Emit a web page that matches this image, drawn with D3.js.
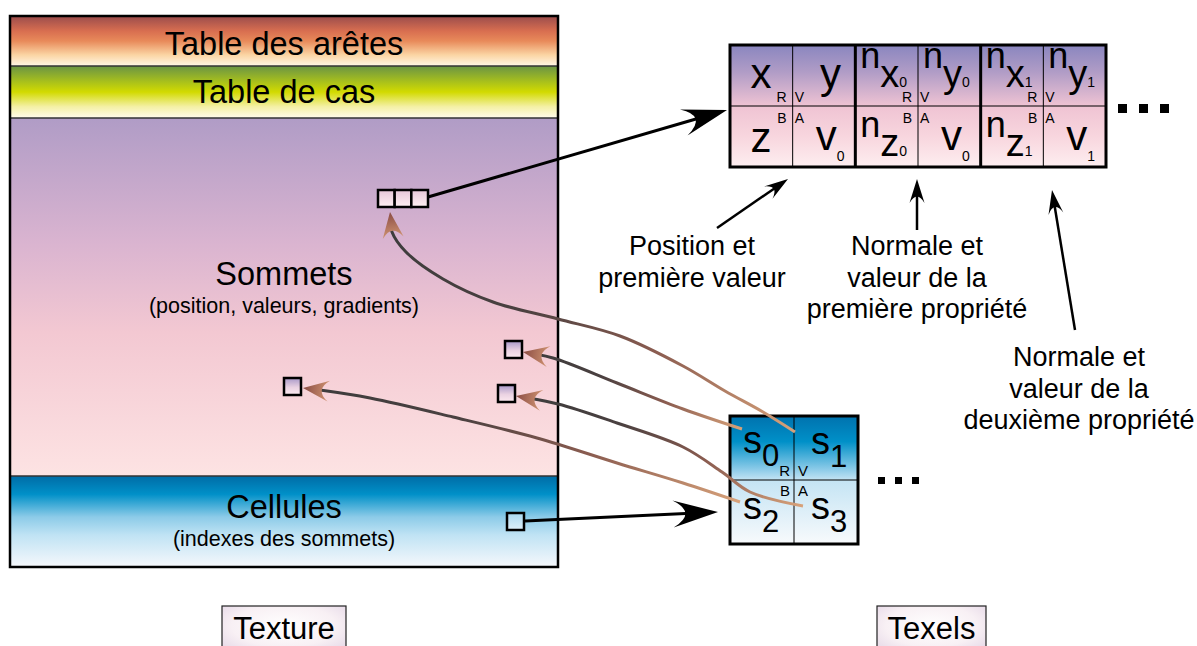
<!DOCTYPE html>
<html><head><meta charset="utf-8">
<script src="https://cdn.jsdelivr.net/npm/d3@7"></script>
<style>
body{margin:0;background:#fff}
svg{display:block}
text{font-family:"Liberation Sans",Arial,Helvetica,sans-serif;fill:#000}
</style>
</head><body>
<svg id="c" width="1197" height="646"></svg>
<script>
// ---- content ----
const bandNames = ["Table des arêtes", "Table de cas", "Sommets", "Cellules"];
const bandSubtitles = ["", "", "(position, valeurs, gradients)", "(indexes des sommets)"];
const channelTop = ["R", "V"];
const channelBottom = ["B", "A"];
const texelTopLeft = [["x"], ["n", "x", "0"], ["n", "x", "1"]];
const texelTopRight = [["y"], ["n", "y", "0"], ["n", "y", "1"]];
const texelBottomLeft = [["z"], ["n", "z", "0"], ["n", "z", "1"]];
const texelBottomRight = [["v", "0"], ["v", "0"], ["v", "1"]];
const cellLabels = [["s", "0"], ["s", "1"], ["s", "2"], ["s", "3"]];
const annotations = [
  ["Position et", "première valeur"],
  ["Normale et", "valeur de la", "première propriété"],
  ["Normale et", "valeur de la", "deuxième propriété"]
];
const footLabels = ["Texture", "Texels"];

// ---- layout ----
const svg = d3.select("#c");
const defs = svg.append("defs");
function linGrad(id, stops, a) {
  const g = defs.append("linearGradient").attr("id", id);
  const at = Object.assign({x1: 0, y1: 0, x2: 0, y2: 1}, a || {});
  Object.entries(at).forEach(([k, v]) => g.attr(k, v));
  stops.forEach(s => g.append("stop").attr("offset", s[0]).attr("stop-color", s[1]));
  return `url(#${id})`;
}

const TX0 = 10, TX1 = 558;
const bandY = d3.scaleOrdinal().domain([0, 1, 2, 3, 4]).range([16, 66, 118, 476, 567]);
const bandStops = [
  [[0, "#9a4c4c"], [0.3, "#d86e50"], [0.5, "#e88a5a"], [0.78, "#fbd5a4"], [1, "#fff7e6"]],
  [[0, "#6a9444"], [0.3, "#a8c01c"], [0.5, "#d2da00"], [0.78, "#f4f0a4"], [1, "#fffbec"]],
  [[0, "#b09cc6"], [0.35, "#dab4d0"], [0.6, "#f3c8d2"], [1, "#fde3e3"]],
  [[0, "#006ca6"], [0.2, "#0090c8"], [0.45, "#8ccbe8"], [0.65, "#c0e3f4"], [1, "#f6f8fc"]]
];

const cx = (TX0 + TX1) / 2;
bandNames.forEach((n, i) => {
  const y0 = bandY(i), y1 = bandY(i + 1);
  svg.append("rect").attr("x", TX0).attr("y", y0).attr("width", TX1 - TX0).attr("height", y1 - y0)
    .attr("fill", linGrad("band" + i, bandStops[i]));
});
[1, 2, 3].forEach(i => {
  svg.append("line").attr("x1", TX0).attr("x2", TX1).attr("y1", bandY(i)).attr("y2", bandY(i))
    .attr("stroke", "#333").attr("stroke-width", 1.5);
});
svg.append("rect").attr("x", TX0).attr("y", bandY(0)).attr("width", TX1 - TX0).attr("height", bandY(4) - bandY(0))
  .attr("fill", "none").attr("stroke", "#000").attr("stroke-width", 2.5);

const titleBase = [55, 103, 285, 518];
bandNames.forEach((n, i) => {
  svg.append("text").attr("x", cx).attr("y", titleBase[i]).attr("text-anchor", "middle")
    .attr("font-size", 32.5).text(n);
  if (bandSubtitles[i]) svg.append("text").attr("x", cx).attr("y", titleBase[i] + 28)
    .attr("text-anchor", "middle").attr("font-size", 21.5).text(bandSubtitles[i]);
});

// ---- texel strip (top right) ----
const col = d3.scaleBand().domain(d3.range(6)).range([730, 1106]);
const TY0 = 45, TYM = 106, TY1 = 167;
svg.append("rect").attr("x", 730).attr("y", TY0).attr("width", 376).attr("height", TY1 - TY0)
  .attr("fill", linGrad("texg", [[0, "#8a86bf"], [0.22, "#b09cc6"], [0.5, "#efc3d3"], [0.75, "#f8d6de"], [1, "#fdeef0"]]));
[1, 3, 5].forEach(c => svg.append("line").attr("x1", col(c)).attr("x2", col(c)).attr("y1", TY0).attr("y2", TY1)
  .attr("stroke", "#000").attr("stroke-width", 1));
svg.append("line").attr("x1", 730).attr("x2", 1106).attr("y1", TYM).attr("y2", TYM).attr("stroke", "#000").attr("stroke-width", 1);
[2, 4].forEach(c => svg.append("line").attr("x1", col(c)).attr("x2", col(c)).attr("y1", TY0).attr("y2", TY1)
  .attr("stroke", "#000").attr("stroke-width", 3));
svg.append("rect").attr("x", 730).attr("y", TY0).attr("width", 376).attr("height", TY1 - TY0)
  .attr("fill", "none").attr("stroke", "#000").attr("stroke-width", 3);

function composite(x, y, parts, anchor, sizes, dys) {
  const t = svg.append("text").attr("x", x).attr("y", y).attr("text-anchor", anchor || "start");
  parts.forEach((p, k) => t.append("tspan").attr("font-size", sizes[k]).attr("dy", dys[k]).text(p));
  return t;
}
for (let g = 0; g < 3; g++) {
  const x0 = col(2 * g), xm = col(2 * g + 1);
  if (g === 0) {
    composite(x0 + 31, 88, texelTopLeft[g], "middle", [42], [0]);
    composite(x0 + 111, 88, texelTopRight[g], "end", [42], [0]);
    composite(x0 + 31, 152, texelBottomLeft[g], "middle", [42], [0]);
  } else {
    composite(x0 + 5, 68, texelTopLeft[g], "start", [36, 38, 14], [0, 19, 0]);
    composite(xm + 5, 68, texelTopRight[g], "start", [36, 38, 14], [0, 19, 0]);
    composite(x0 + 5, 137, texelBottomLeft[g], "start", [36, 38, 14], [0, 19, 0]);
  }
  composite(xm + 23, 150, texelBottomRight[g], "start", [42, 14], [0, 11]);
  svg.append("text").attr("x", xm - 6).attr("y", 102).attr("text-anchor", "end").attr("font-size", 14).text(channelTop[0]);
  svg.append("text").attr("x", xm + 2).attr("y", 102).attr("font-size", 14).text(channelTop[1]);
  svg.append("text").attr("x", xm - 6).attr("y", 123).attr("text-anchor", "end").attr("font-size", 14).text(channelBottom[0]);
  svg.append("text").attr("x", xm + 2).attr("y", 123).attr("font-size", 14).text(channelBottom[1]);
}
[1118, 1139, 1160].forEach(x => svg.append("rect").attr("x", x).attr("y", 104).attr("width", 9).attr("height", 9).attr("fill", "#000"));

// ---- cell texel (small box) ----
const scol = d3.scaleBand().domain([0, 1]).range([730, 858]);
const SY0 = 416, SYM = 480, SY1 = 544;
svg.append("rect").attr("x", 730).attr("y", SY0).attr("width", 128).attr("height", 128)
  .attr("fill", linGrad("cellg", [[0, "#0072ae"], [0.2, "#0090c8"], [0.42, "#8ecce9"], [0.5, "#c4e4f4"], [1, "#f8fafc"]]));
svg.append("line").attr("x1", scol(1)).attr("x2", scol(1)).attr("y1", SY0).attr("y2", SY1).attr("stroke", "#000").attr("stroke-width", 1);
svg.append("line").attr("x1", 730).attr("x2", 858).attr("y1", SYM).attr("y2", SYM).attr("stroke", "#000").attr("stroke-width", 1);
svg.append("rect").attr("x", 730).attr("y", SY0).attr("width", 128).attr("height", 128)
  .attr("fill", "none").attr("stroke", "#000").attr("stroke-width", 3);
const sPos = [[743, 453], [811, 454], [743, 519], [811, 519]];
cellLabels.forEach((c, i) => composite(sPos[i][0], sPos[i][1], c, "start", [38, 31], [0, 13]));
svg.append("text").attr("x", scol(1) - 4).attr("y", 476).attr("text-anchor", "end").attr("font-size", 15).text(channelTop[0]);
svg.append("text").attr("x", scol(1) + 4).attr("y", 476).attr("font-size", 15).text(channelTop[1]);
svg.append("text").attr("x", scol(1) - 4).attr("y", 496).attr("text-anchor", "end").attr("font-size", 15).text(channelBottom[0]);
svg.append("text").attr("x", scol(1) + 4).attr("y", 496).attr("font-size", 15).text(channelBottom[1]);
[878, 895, 912].forEach(x => svg.append("rect").attr("x", x).attr("y", 477).attr("width", 7).attr("height", 7).attr("fill", "#000"));

// ---- arrowheads ----
function headPath(tip, from, L, W) {
  let ux = tip[0] - from[0], uy = tip[1] - from[1];
  const n = Math.hypot(ux, uy); ux /= n; uy /= n;
  const px = -uy, py = ux;
  const bx = tip[0] - ux * L, by = tip[1] - uy * L;
  const c = [tip[0] - ux * 0.45 * L, tip[1] - uy * 0.45 * L];
  return `M${tip[0]},${tip[1]} L${bx + px * W},${by + py * W} Q${c[0]},${c[1]} ${bx - px * W},${by - py * W} Z`;
}
function blackArrow(from, tip, L, W, sw) {
  let ux = tip[0] - from[0], uy = tip[1] - from[1];
  const n = Math.hypot(ux, uy); ux /= n; uy /= n;
  svg.append("line").attr("x1", from[0]).attr("y1", from[1])
    .attr("x2", tip[0] - ux * L * 0.6).attr("y2", tip[1] - uy * L * 0.6)
    .attr("stroke", "#000").attr("stroke-width", sw);
  svg.append("path").attr("d", headPath(tip, from, L, W)).attr("fill", "#000");
}

// ---- brown curves from cell texels to texture ----
const curves = [
  [[795, 432], [763, 412], [725, 391], [683, 366], [620, 336], [558, 319], [493, 302], [443, 279], [406, 252], [392, 232], [390, 212]],
  [[742, 429], [683, 409], [617, 383], [553, 358], [523, 352]],
  [[803, 506], [750, 492], [722, 472], [683, 447], [617, 423], [558, 404], [516, 396]],
  [[740, 502], [683, 483], [617, 463], [537, 438], [453, 417], [370, 398], [320, 390], [303, 388]]
];
const curveLine = d3.line().curve(d3.curveCatmullRom.alpha(0.5));
curves.forEach((pts, i) => {
  const tip = pts[pts.length - 1], start = pts[0];
  const grad = linGrad("cg" + i, [[0, "#3c3c3c"], [0.35, "#4a4040"], [0.65, "#8a5c50"], [1, "#d8a27a"]],
    {gradientUnits: "userSpaceOnUse", x1: tip[0], y1: tip[1], x2: start[0], y2: start[1]});
  const p = svg.append("path").attr("d", curveLine(pts)).attr("fill", "none")
    .attr("stroke", grad).attr("stroke-width", 3);
  const len = p.node().getTotalLength();
  p.attr("stroke-dasharray", `${len - 14} ${len}`);
  const back = p.node().getPointAtLength(len - 22);
  const from = [back.x, back.y];
  let ux = tip[0] - from[0], uy = tip[1] - from[1];
  const n = Math.hypot(ux, uy); ux /= n; uy /= n;
  const hg = linGrad("hg" + i, [[0, "#8a4c44"], [1, "#cf9371"]],
    {gradientUnits: "userSpaceOnUse", x1: tip[0], y1: tip[1], x2: tip[0] - ux * 26, y2: tip[1] - uy * 26});
  svg.append("path").attr("d", headPath(tip, from, 26, 10.5)).attr("fill", hg);
});

// ---- black arrows ----
blackArrow([428, 197], [727, 110], 45, 13.5, 3);
blackArrow([525, 521], [718, 512], 45, 13.5, 3);
blackArrow([717, 228], [788, 179], 24, 7.5, 2.5);
blackArrow([917, 230], [917, 179], 24, 7.5, 2.5);
blackArrow([1075, 330], [1052, 190], 24, 7.5, 2.5);

// ---- small squares in the texture ----
const sq = linGrad("sqg", [[0, "#a898c8"], [0.55, "#ead2e2"], [1, "#fdeaf0"]]);
const squares = [[505, 341], [498, 385], [284, 378], [507, 513]];
squares.forEach((s, i) => svg.append("rect").attr("x", s[0]).attr("y", s[1]).attr("width", 17).attr("height", 17)
  .attr("fill", i === 3 ? linGrad("sqc", [[0, "#a8d8f0"], [1, "#dff0fa"]]) : sq)
  .attr("stroke", "#000").attr("stroke-width", 2.5));
const three = linGrad("thg", [[0, "#e6c6d8"], [1, "#fff0f2"]]);
const tcol = d3.scaleBand().domain([0, 1, 2]).range([378, 428]);
tcol.domain().forEach(k => svg.append("rect").attr("x", tcol(k)).attr("y", 190).attr("width", tcol.bandwidth())
  .attr("height", 17).attr("fill", three).attr("stroke", "#000").attr("stroke-width", 2.5));

// ---- annotation texts ----
const annX = [692, 917, 1079];
const annY = [255, 255, 366];
annotations.forEach((lines, i) => {
  lines.forEach((l, k) => svg.append("text").attr("x", annX[i]).attr("y", annY[i] + k * 31.5)
    .attr("text-anchor", "middle").attr("font-size", 27).text(l));
});

// ---- foot labels ----
const rg = defs.append("radialGradient").attr("id", "footg").attr("cx", 0.5).attr("cy", 0.4).attr("r", 0.7);
[[0, "#ffffff"], [0.6, "#f8f0f4"], [1, "#e4d6e6"]].forEach(s => rg.append("stop").attr("offset", s[0]).attr("stop-color", s[1]));
const footX = [[222, 346], [877, 986]];
footLabels.forEach((f, i) => {
  svg.append("rect").attr("x", footX[i][0]).attr("y", 606).attr("width", footX[i][1] - footX[i][0]).attr("height", 50)
    .attr("fill", "url(#footg)").attr("stroke", "#222").attr("stroke-width", 1.2);
  svg.append("text").attr("x", (footX[i][0] + footX[i][1]) / 2).attr("y", 639).attr("text-anchor", "middle")
    .attr("font-size", 31).text(f);
});
</script>
</body></html>
